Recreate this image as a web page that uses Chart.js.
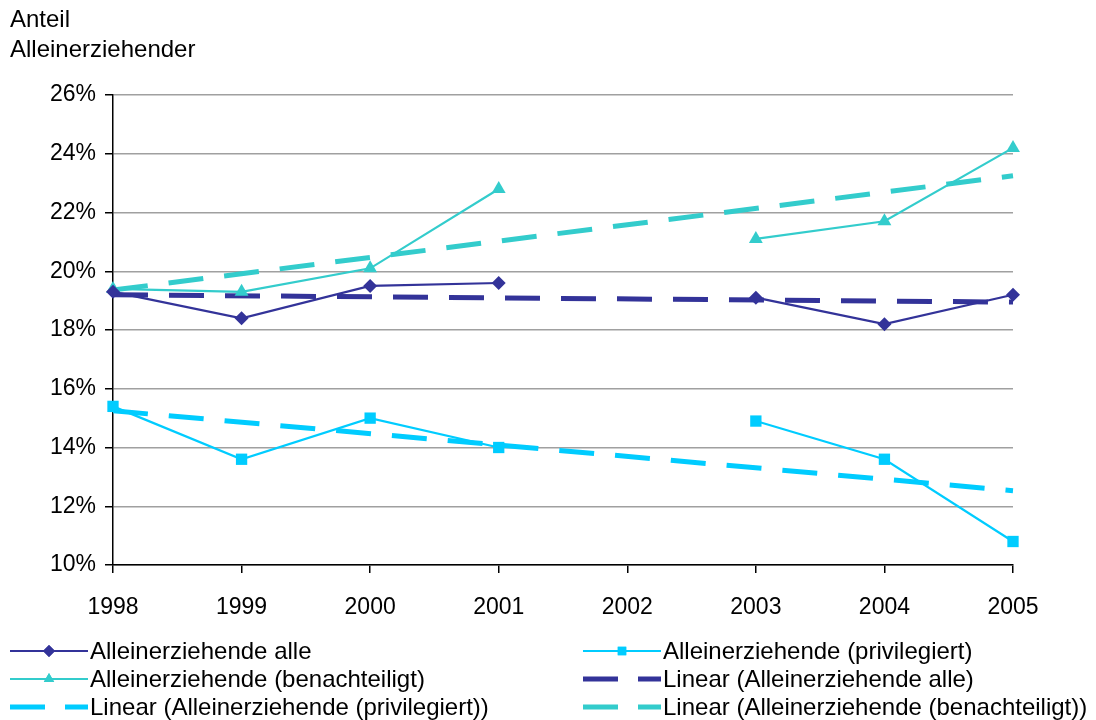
<!DOCTYPE html>
<html>
<head>
<meta charset="utf-8">
<script src="https://cdn.jsdelivr.net/npm/chart.js@4"></script>
<style>
  html, body { margin: 0; padding: 0; background: #fff; }
  #wrap { position: relative; width: 1096px; height: 720px; }
  #yTitle { position: absolute; left: 10px; top: 4px; font: 24px "Liberation Sans", Arial, sans-serif; line-height: 30px; color: #000; }
</style>
</head>
<body>
<div id="wrap">
  <canvas id="chart" width="1096" height="720"></canvas>
  <div id="yTitle">Anteil<br>Alleinerziehender</div>
</div>
<script>
const years = ['1998', '1999', '2000', '2001', '2002', '2003', '2004', '2005'];
const yTicks = [10, 12, 14, 16, 18, 20, 22, 24, 26];

// shares in percent, 2002 has no data
const alle = [19.3, 18.4, 19.5, 19.6, null, 19.1, 18.2, 19.2];
const privilegiert = [15.4, 13.6, 15.0, 14.0, null, 14.9, 13.6, 10.8];
const benachteiligt = [19.4, 19.3, 20.1, 22.8, null, 21.1, 21.7, 24.2];

// trend line end points (1998 and 2005)
const trendAlle = [19.2, null, null, null, null, null, null, 18.95];
const trendPriv = [15.25, null, null, null, null, null, null, 12.53];
const trendBen = [19.36, null, null, null, null, null, null, 23.25];

const DARK = '#333399';
const CYAN = '#00CCFF';
const TURQ = '#33CCCC';
const FONT = '"Liberation Sans", Arial, sans-serif';

const markerSize = { rectRot: 7, rect: 8, triangle: 8 };

function series(label, data, color, style) {
  return {
    label, data,
    borderColor: color, backgroundColor: color,
    borderWidth: 2.2, pointStyle: style, pointRadius: markerSize[style],
    pointBorderWidth: 0, spanGaps: false, tension: 0
  };
}
function trend(label, data, color) {
  return {
    label, data,
    borderColor: color, backgroundColor: color,
    borderWidth: 5, borderDash: [35, 21], pointRadius: 0,
    spanGaps: true, tension: 0, isTrend: true
  };
}

const datasets = [
  series('Alleinerziehende alle', alle, DARK, 'rectRot'),
  series('Alleinerziehende (privilegiert)', privilegiert, CYAN, 'rect'),
  series('Alleinerziehende (benachteiligt)', benachteiligt, TURQ, 'triangle'),
  trend('Linear (Alleinerziehende alle)', trendAlle, DARK),
  trend('Linear (Alleinerziehende (privilegiert))', trendPriv, CYAN),
  trend('Linear (Alleinerziehende (benachteiligt))', trendBen, TURQ)
];

// two column legend below the plot
const legendPlugin = {
  id: 'twoColLegend',
  afterDraw(chart) {
    const ctx = chart.ctx;
    const cols = [10, 583];
    const rows = [651, 679, 707];
    ctx.save();
    ctx.font = '24px ' + FONT;
    ctx.textBaseline = 'middle';
    chart.data.datasets.forEach((ds, i) => {
      const x = cols[i % 2];
      const y = rows[Math.floor(i / 2)];
      ctx.strokeStyle = ds.borderColor;
      ctx.fillStyle = ds.borderColor;
      if (ds.isTrend) {
        ctx.lineWidth = 5;
        ctx.beginPath();
        ctx.moveTo(x, y); ctx.lineTo(x + 35, y);
        ctx.moveTo(x + 55, y); ctx.lineTo(x + 78, y);
        ctx.stroke();
      } else {
        ctx.lineWidth = 2;
        ctx.beginPath();
        ctx.moveTo(x, y); ctx.lineTo(x + 78, y);
        ctx.stroke();
        Chart.helpers.drawPoint(ctx, { pointStyle: ds.pointStyle, radius: 6, borderWidth: 0 }, x + 39, y);
        ctx.fill();
      }
      ctx.fillStyle = '#000';
      ctx.fillText(ds.label, x + 80, y + 1);
    });
    ctx.restore();
  }
};

new Chart(document.getElementById('chart'), {
  type: 'line',
  data: { labels: years, datasets },
  plugins: [legendPlugin],
  options: {
    responsive: false,
    animation: false,
    layout: { padding: { left: 0, right: 83, top: 95, bottom: 0 } },
    plugins: { legend: { display: false }, tooltip: { enabled: false } },
    scales: {
      x: {
        type: 'category',
        offset: false,
        afterFit: s => { s.height = 155; },
        grid: { drawOnChartArea: false, tickLength: 8, color: '#000', lineWidth: 1.5 },
        border: { color: '#000', width: 1.5 },
        ticks: { color: '#000', font: { family: FONT, size: 23 }, padding: 21, maxRotation: 0, autoSkip: false }
      },
      y: {
        min: 10, max: 26,
        afterFit: s => { s.width = 113; },
        afterBuildTicks: s => { s.ticks = yTicks.map(v => ({ value: v })); },
        grid: { color: '#a0a0a0', lineWidth: 1.5, tickLength: 8, tickColor: '#000' },
        border: { color: '#000', width: 1.5 },
        ticks: { color: '#000', font: { family: FONT, size: 23 }, padding: 9, callback: v => v + '%' }
      }
    }
  }
});
</script>
</body>
</html>
